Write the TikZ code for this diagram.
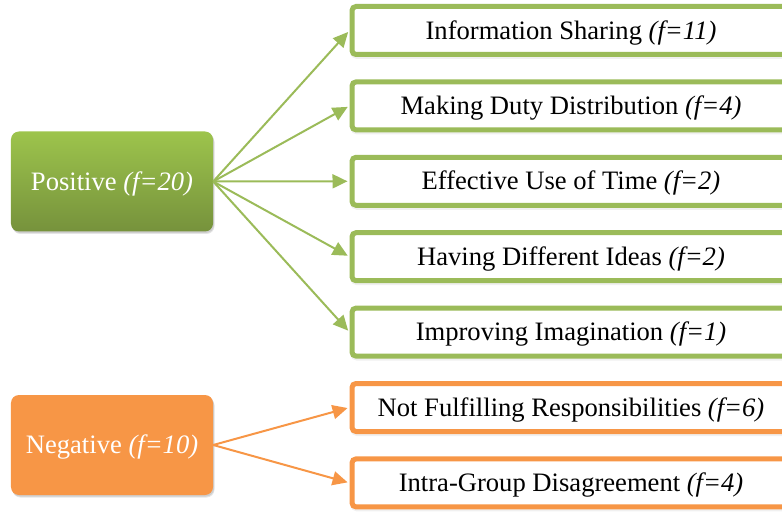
\documentclass[tikz,border=0pt]{standalone}
\usepackage{fontspec}
\setmainfont{Liberation Serif}
\usetikzlibrary{arrows.meta,shadows}
\definecolor{olivegreen}{HTML}{9BBB59}
\definecolor{olivetop}{HTML}{9DC44C}
\definecolor{olivebot}{HTML}{76923C}
\definecolor{accentorange}{HTML}{F79646}
\tikzset{
  labelfont/.style={font=\fontsize{26.6bp}{32bp}\selectfont, text height=17.4bp, text depth=0pt},
  softshadow/.style={
    general shadow={shadow xshift=1.5bp, shadow yshift=-2.5bp, fill=black, opacity=0.10, rounded corners=8bp},
    general shadow={shadow xshift=1bp, shadow yshift=-1.5bp, fill=black, opacity=0.10, rounded corners=8bp}},
  lightshadow/.style={
    general shadow={shadow xshift=1bp, shadow yshift=-2bp, draw=black, line width=5bp, opacity=0.06, rounded corners=4bp}},
  category/.style={minimum width=202bp, minimum height=100bp, inner sep=0pt,
    rounded corners=8bp, text=white, labelfont, softshadow},
  itembox/.style={draw=#1, line width=5bp, fill=white, rounded corners=4bp,
    minimum width=438bp, minimum height=48bp, inner sep=0pt, anchor=west,
    labelfont, lightshadow},
  link/.style={draw=#1, line width=2bp, shorten >=2bp,
    -{Triangle[length=15bp, width=14bp]}},
}
\begin{document}
\begin{tikzpicture}[x=1bp, y=-1bp]
  \useasboundingbox (0,0) rectangle (782,512);
  \clip (0,0) rectangle (782,512);

  % category boxes
  \node[category, top color=olivetop, bottom color=olivebot] (pos) at (112,181.5)
    {Positive \textit{(f=20)}};
  \node[category, fill=accentorange] (neg) at (112,445)
    {Negative \textit{(f=10)}};

  % positive outcomes
  \node[itembox=olivegreen] (p1) at (349.5,30.5)  {Information Sharing \textit{(f=11)}};
  \node[itembox=olivegreen] (p2) at (349.5,105.9) {Making Duty Distribution \textit{(f=4)}};
  \node[itembox=olivegreen] (p3) at (349.5,181.3) {Effective Use of Time \textit{(f=2)}};
  \node[itembox=olivegreen] (p4) at (349.5,256.7) {Having Different Ideas \textit{(f=2)}};
  \node[itembox=olivegreen] (p5) at (349.5,332.1) {Improving Imagination \textit{(f=1)}};

  % negative outcomes
  \node[itembox=accentorange] (n1) at (349.5,407.5) {Not Fulfilling Responsibilities \textit{(f=6)}};
  \node[itembox=accentorange] (n2) at (349.5,482.9) {Intra-Group Disagreement \textit{(f=4)}};

  % connectors
  \foreach \t in {p1,p2,p3,p4,p5}
    \draw[link=olivegreen] (pos.east) -- (\t.west);
  \foreach \t in {n1,n2}
    \draw[link=accentorange] (neg.east) -- (\t.west);
\end{tikzpicture}
\end{document}
